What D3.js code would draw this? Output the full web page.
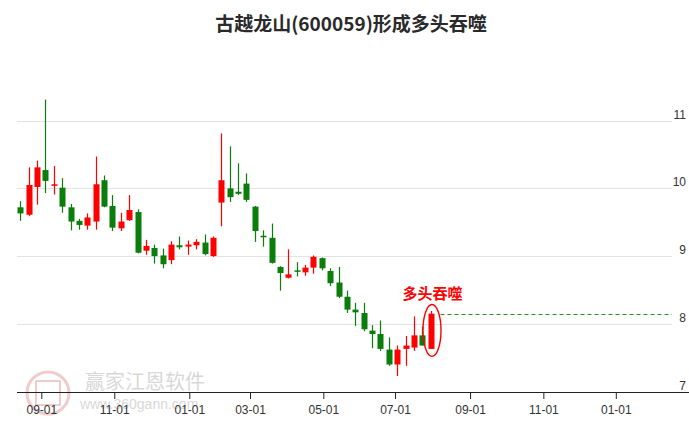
<!DOCTYPE html>
<html>
<head>
<meta charset="utf-8">
<script src="https://cdn.jsdelivr.net/npm/d3@7"></script>
<style>
  html, body { margin: 0; padding: 0; background: #fff; }
  svg { display: block; }
</style>
</head>
<body>
<svg id="chart" width="689" height="427"></svg>
<script>
// ---- data (weekly candles) ----
const weeks = ["2023-08-14","2023-08-21","2023-08-28","2023-09-04","2023-09-11","2023-09-18","2023-09-25","2023-10-02","2023-10-09","2023-10-16",
  "2023-10-23","2023-10-30","2023-11-06","2023-11-13","2023-11-20","2023-11-27","2023-12-04","2023-12-11","2023-12-18","2023-12-25",
  "2024-01-01","2024-01-08","2024-01-15","2024-01-22","2024-01-29","2024-02-05","2024-02-19","2024-02-26","2024-03-04","2024-03-11",
  "2024-03-18","2024-03-25","2024-04-01","2024-04-08","2024-04-15","2024-04-22","2024-04-29","2024-05-06","2024-05-13","2024-05-20",
  "2024-05-27","2024-06-03","2024-06-10","2024-06-17","2024-06-24","2024-07-01","2024-07-08","2024-07-15","2024-07-22","2024-07-29"];
const openV  = [9.72,9.61,10.02,10.27,10.04,10.01,9.72,9.52,9.45,9.51,10.12,9.74,9.41,9.53,9.65,9.08,9.12,9.01,8.94,9.16,
  9.14,9.16,9.20,9.00,9.79,10.00,9.95,10.07,9.73,9.30,9.27,8.84,8.68,8.79,8.76,8.83,8.97,8.78,8.61,8.40,
  8.21,8.16,7.90,7.85,7.62,7.40,7.63,7.65,7.83,7.63];
const highV  = [9.81,10.31,10.41,11.31,10.33,10.15,9.77,9.55,9.63,10.47,10.19,9.90,9.64,9.90,9.69,9.24,9.17,9.11,9.22,9.29,
  9.23,9.25,9.32,9.29,10.81,10.62,10.37,10.22,9.74,9.38,9.48,8.85,9.10,8.91,8.87,9.01,8.98,8.82,8.84,8.49,
  8.31,8.31,7.98,8.05,7.80,7.68,7.82,8.11,7.96,8.19];
const lowV   = [9.52,9.59,9.76,9.93,9.91,9.64,9.38,9.39,9.39,9.39,9.72,9.37,9.37,9.52,9.04,9.02,8.89,8.82,8.88,9.10,
  9.02,9.10,9.01,8.99,9.44,9.80,9.90,9.80,9.21,9.14,8.89,8.49,8.67,8.70,8.71,8.74,8.79,8.56,8.38,8.16,
  7.97,7.89,7.64,7.60,7.38,7.23,7.38,7.60,7.68,7.63];
const closeV = [9.63,10.05,10.31,10.11,10.06,9.73,9.51,9.46,9.57,10.06,9.73,9.42,9.51,9.68,9.05,9.15,9.00,8.88,9.17,9.13,
  9.17,9.21,9.03,9.27,10.12,9.87,9.92,9.83,9.37,9.28,8.90,8.75,8.73,8.77,8.83,8.99,8.82,8.60,8.40,8.21,
  8.17,7.92,7.85,7.63,7.40,7.62,7.68,7.83,7.68,8.15];
const xTickPos    = [2.51, 11.22, 20.18, 27.43, 36.18, 44.74, 53.7, 62.45, 71.1];
const xTickLabels = ["09-01","11-01","01-01","03-01","05-01","07-01","09-01","11-01","01-01"];
const yTicks = [7, 8, 9, 10, 11];
const title = "古越龙山(600059)形成多头吞噬";
const signalText = "多头吞噬";
const signalIndex = 49;

// ---- drawing ----
const svg = d3.select("#chart");
const RED = "#f00", GREEN = "#0a7d0a";

const x = d3.scaleLinear().domain([0, weeks.length - 1]).range([20.3, 430.7]);
const y = d3.scaleLinear().domain([7, 11]).range([391.6, 120.6]);

const candles = weeks.map((w, i) => ({ w, i, o: openV[i], h: highV[i], l: lowV[i], c: closeV[i] }));

// watermark
const wm = svg.append("g").attr("opacity", 0.55);
wm.append("circle").attr("cx", 48).attr("cy", 393).attr("r", 21)
  .attr("fill", "none").attr("stroke", "#e2a3a3").attr("stroke-width", 3);
wm.append("rect").attr("x", 36).attr("y", 381).attr("width", 24).attr("height", 24)
  .attr("fill", "none").attr("stroke", "#e2a3a3").attr("stroke-width", 2);
wm.append("text").attr("x", 85).attr("y", 389).attr("font-family", "Noto Sans CJK SC")
  .attr("font-size", 20).attr("fill", "#b9b9b9").text("赢家江恩软件");
wm.append("text").attr("x", 80).attr("y", 409).attr("font-family", "Liberation Sans, Arial")
  .attr("font-size", 14).attr("fill", "#b9b9b9").text("www.360gann.com");

// gridlines + y labels
const gridG = svg.append("g");
gridG.selectAll("line").data(yTicks.filter(v => v !== 7)).join("line")
  .attr("x1", 17).attr("x2", 672)
  .attr("y1", d => Math.round(y(d)) + 0.5).attr("y2", d => Math.round(y(d)) + 0.5)
  .attr("stroke", "#e3e3e3").attr("stroke-width", 1);
gridG.selectAll("text").data(yTicks).join("text")
  .attr("x", 686).attr("y", d => y(d) - 2)
  .attr("text-anchor", "end")
  .attr("font-family", "Liberation Sans, Arial").attr("font-size", 12).attr("fill", "#333")
  .text(d => d);

// x axis
const xAxis = d3.axisBottom(x).tickValues(xTickPos)
  .tickFormat((d, i) => xTickLabels[i]).tickSize(7).tickPadding(6);
const axG = svg.append("g").attr("transform", "translate(0,392)").call(xAxis);
axG.select(".domain").remove();
axG.append("line").attr("x1", 17).attr("x2", 689).attr("y1", 0.5).attr("y2", 0.5)
  .attr("stroke", "#222");
axG.selectAll(".tick line").attr("stroke", "#222");
axG.selectAll(".tick text").attr("font-family", "Liberation Sans, Arial")
  .attr("font-size", 12).attr("fill", "#333");

// candles
const cg = svg.append("g");
const col = d => d.c >= d.o ? RED : GREEN;
cg.selectAll("line.wick").data(candles).join("line").attr("class", "wick")
  .attr("x1", d => Math.round(x(d.i)) + 0.5).attr("x2", d => Math.round(x(d.i)) + 0.5)
  .attr("y1", d => y(d.h)).attr("y2", d => y(d.l))
  .attr("stroke", col).attr("stroke-width", 1.2);
cg.selectAll("rect.body").data(candles).join("rect").attr("class", "body")
  .attr("x", d => Math.round(x(d.i)) - 2.5).attr("width", 6)
  .attr("y", d => y(Math.max(d.o, d.c)))
  .attr("height", d => Math.max(1.5, Math.abs(y(d.o) - y(d.c))))
  .attr("fill", col);

// signal annotation
const s = candles[signalIndex];
const sx = Math.round(x(s.i)) + 0.5;
svg.append("line")
  .attr("x1", sx + 9).attr("x2", 672)
  .attr("y1", Math.round(y(s.c)) + 0.5).attr("y2", Math.round(y(s.c)) + 0.5)
  .attr("stroke", "#2a8a2a").attr("stroke-width", 1).attr("stroke-dasharray", "4,3");
svg.append("ellipse")
  .attr("cx", sx + 0.5).attr("cy", (y(s.h) + y(s.l)) / 2 + 0.5)
  .attr("rx", 9).attr("ry", (y(s.l) - y(s.h)) / 2 + 7)
  .attr("fill", "none").attr("stroke", RED).attr("stroke-width", 1.4);
svg.append("text")
  .attr("x", sx + 1).attr("y", y(s.h) - 12)
  .attr("text-anchor", "middle")
  .attr("font-family", "Noto Sans CJK SC").attr("font-weight", "bold")
  .attr("font-size", 15).attr("fill", RED).text(signalText);

// title
svg.append("text").attr("x", 351).attr("y", 31).attr("text-anchor", "middle")
  .attr("font-family", "Noto Sans CJK SC").attr("font-weight", "bold")
  .attr("font-size", 19).attr("fill", "#2a2a2a").text(title);
</script>
</body>
</html>
